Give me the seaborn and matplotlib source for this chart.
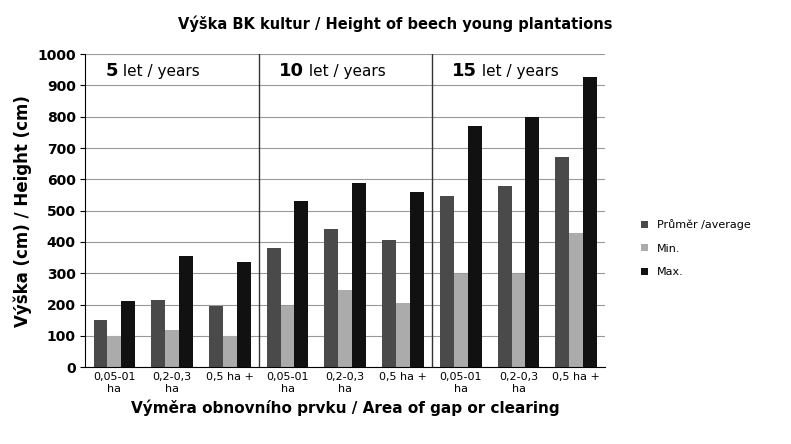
import matplotlib
matplotlib.use('Agg')
import matplotlib.pyplot as plt
import seaborn as sns
import pandas as pd

# ─── Data ────────────────────────────────────────────────────────────────
AREAS = ['0,05-01\nha', '0,2-0,3\nha', '0,5 ha +']
AGES = ['5', '10', '15']
SERIES = ['Průměr /average', 'Min.', 'Max.']
AVG = [150, 215, 195, 380, 440, 405, 548, 578, 672]
MIN = [100, 120, 100, 195, 245, 205, 298, 298, 430]
MAX = [210, 355, 335, 530, 590, 560, 770, 800, 928]

cats = [f'{a}|{ar}' for a in AGES for ar in AREAS]
rows = []
for name, vals in zip(SERIES, [AVG, MIN, MAX]):
    for c, v in zip(cats, vals):
        rows.append({'cat': c, 'series': name, 'value': v})
df = pd.DataFrame(rows)

fig = plt.figure(figsize=(7.91, 4.44), dpi=100)
ax = fig.add_axes([0.108, 0.173, 0.657, 0.705])
sns.barplot(data=df, x='cat', y='value', hue='series', order=cats, hue_order=SERIES,
            palette=['#4a4a4a', '#ababab', '#111111'], width=0.72, gap=0,
            saturation=1, ax=ax)

ax.set_xticks(range(len(cats)))
ax.set_xticklabels([c.split('|')[1] for c in cats], fontsize=8)
ax.set_ylim(0, 1000)
ax.set_yticks(range(0, 1001, 100))
ax.tick_params(axis='y', labelsize=10)
for t in ax.get_yticklabels():
    t.set_fontweight('bold')
ax.set_xlim(-0.5, len(cats) - 0.5)
ax.yaxis.grid(True, color='#999999', linewidth=0.8)
ax.set_axisbelow(True)
for s in ['top', 'right']:
    ax.spines[s].set_visible(False)
ax.tick_params(axis='x', length=0)

for i in (2.5, 5.5):
    ax.axvline(i, color='#333333', linewidth=1)
for g, age in enumerate(AGES):
    t = ax.text(g * 3 - 0.15, 945, age, fontsize=13, fontweight='bold', ha='left', va='center')
    ax.annotate(' let / years', xycoords=t, xy=(1, 0.5), va='center', fontsize=11)

ax.set_xlabel('Výměra obnovního prvku / Area of gap or clearing', fontsize=11, fontweight='bold')
ax.set_ylabel('Výška (cm) / Height (cm)', fontsize=12, fontweight='bold')
fig.suptitle('Výška BK kultur / Height of beech young plantations', x=0.5, y=0.965,
             fontsize=10.5, fontweight='bold')

ax.legend(loc='center left', bbox_to_anchor=(1.05, 0.38), frameon=False, fontsize=8,
          handlelength=0.6, handleheight=0.6, labelspacing=1.2)

fig.savefig('out.png', dpi=100, facecolor='white')
